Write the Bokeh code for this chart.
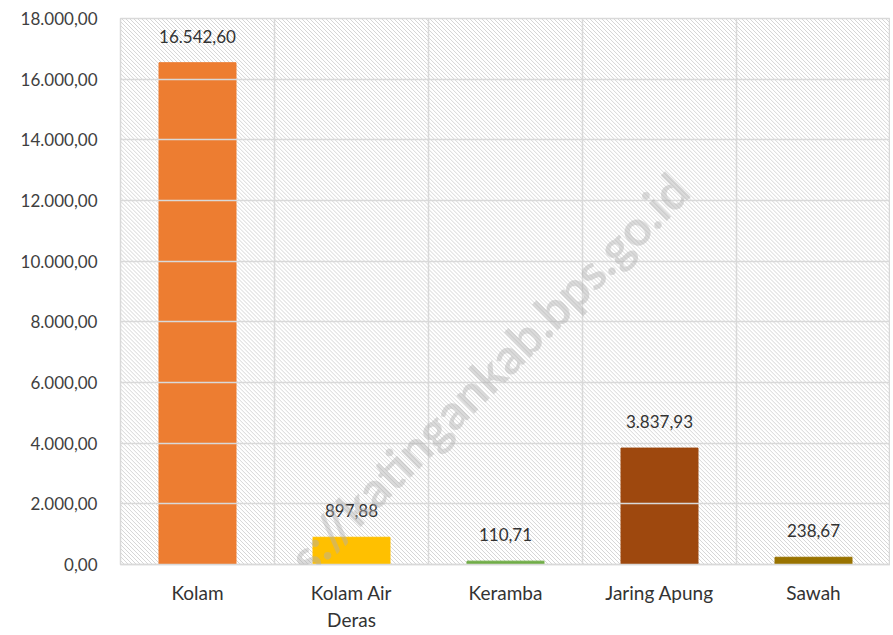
from bokeh.plotting import figure
from bokeh.models import (ColumnDataSource, LabelSet, Span, CustomJSTickFormatter,
                          FixedTicker, Label, Range1d)
from bokeh.core.properties import value
from bokeh.embed import file_html
from bokeh.resources import INLINE
import numpy as np

categories = ["Kolam", "Kolam Air\nDeras", "Keramba", "Jaring Apung", "Sawah"]
values = [16542.60, 897.88, 110.71, 3837.93, 238.67]
colors = ["#ED7D31", "#FFC000", "#70AD47", "#9E480E", "#997300"]
y_ticks = [0, 2000, 4000, 6000, 8000, 10000, 12000, 14000, 16000, 18000]


def fmt(v):
    s = f"{v:,.2f}"
    return s.replace(",", "X").replace(".", ",").replace("X", ".")


labels = [fmt(v) for v in values]
src = ColumnDataSource(dict(x=categories, top=values, color=colors, label=labels))

FONT = "Lato"
W, H = 890, 634
L, T, B = 120, 18, 69
FW, FH = W - L, H - T - B
YMAX = 18000

p = figure(x_range=categories, width=W, height=H, output_backend="svg",
           toolbar_location=None, min_border_left=L, min_border_right=0,
           min_border_top=T, min_border_bottom=B)
p.y_range = Range1d(0, YMAX)

# decorative diagonal hatch of the plot background (synthetic categorical x coords)
ncat = len(categories)
c = np.arange(0, FW + FH + 4, 4.0)
p.segment(x0=c / FW * ncat, y0=np.zeros(len(c)), x1=(c - FH) / FW * ncat,
          y1=np.full(len(c), YMAX), line_color="#d6d6d6", line_width=1, level="underlay")

p.vbar(x="x", top="top", width=0.5, color="color", source=src)

p.add_layout(LabelSet(x="x", y="top", text="label", source=src, text_align="center",
                      text_baseline="bottom", y_offset=20, text_font=value(FONT),
                      text_font_size="17px", text_color="#333333"))

for loc in range(1, ncat):
    p.add_layout(Span(location=loc, dimension="height", line_color="#d9d9d9", line_width=1.5))

p.xgrid.grid_line_color = None
p.ygrid.grid_line_color = "#d9d9d9"
p.ygrid.grid_line_width = 1.5
p.ygrid.level = "glyph"
p.ygrid.ticker = FixedTicker(ticks=y_ticks)
p.outline_line_color = "#d9d9d9"
p.outline_line_width = 1.5

p.yaxis.ticker = FixedTicker(ticks=y_ticks)
p.yaxis.formatter = CustomJSTickFormatter(code="""
    const s = tick.toFixed(2);
    const parts = s.split('.');
    const intp = parts[0].replace(/\\B(?=(\\d{3})+(?!\\d))/g, '.');
    return intp + ',' + parts[1];
""")
p.yaxis.axis_line_color = None
p.yaxis.major_tick_line_color = None
p.yaxis.minor_tick_line_color = None
p.yaxis.major_label_standoff = 17
p.yaxis.major_label_text_font = FONT
p.yaxis.major_label_text_font_size = "17px"
p.yaxis.major_label_text_color = "#404040"

p.xaxis.axis_line_color = "#d9d9d9"
p.xaxis.axis_line_width = 1.5
p.xaxis.major_tick_line_color = None
p.xaxis.minor_tick_line_color = None
p.xaxis.major_label_standoff = 10
p.xaxis.major_label_text_font = FONT
p.xaxis.major_label_text_font_size = "19px"
p.xaxis.major_label_text_color = "#333333"

wm = Label(x=336, y=160, x_units="screen", y_units="screen", text="https://katingankab.bps.go.id",
           angle=45, angle_units="deg", text_align="center", text_baseline="middle",
           text_font=FONT, text_font_size="49px", text_font_style="bold",
           text_color="#b0b0b0", text_alpha=0.45)
p.add_layout(wm)

open("out.html", "w").write(file_html(p, INLINE))
